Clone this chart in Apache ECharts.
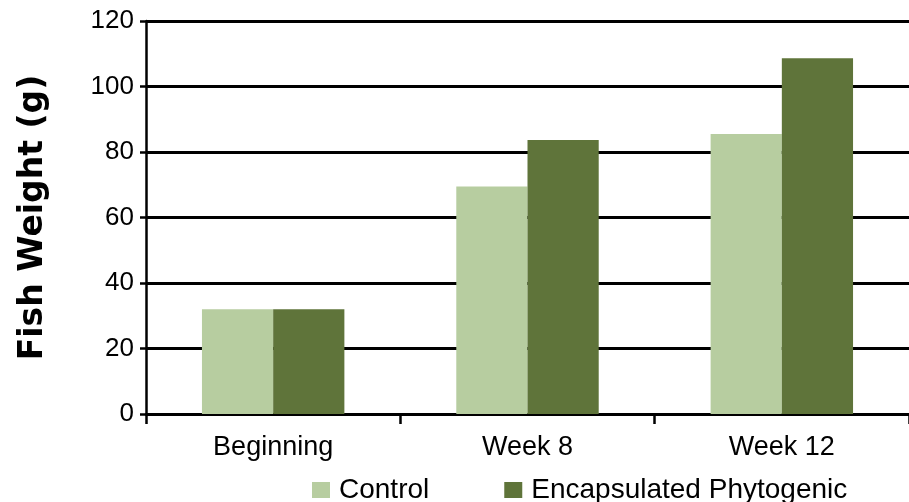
<!DOCTYPE html>
<html>
<head>
<meta charset="utf-8">
<script src="https://cdn.jsdelivr.net/npm/echarts@6/dist/echarts.min.js"></script>
<style>
  html, body { margin: 0; padding: 0; background: #fff; }
  #chart { width: 909px; height: 502px; }
</style>
</head>
<body>
<div id="chart"></div>
<script>
// Fish weight by sampling time, control vs. encapsulated phytogenic diet
const categories = ['Beginning', 'Week 8', 'Week 12'];
const controlValues = [32, 69.5, 85.5];
const phytogenicValues = [32, 83.7, 108.6];
const seriesNames = ['Control', 'Encapsulated Phytogenic'];
const yTicks = { min: 0, max: 120, step: 20 };

const chart = echarts.init(document.getElementById('chart'), null, { renderer: 'canvas' });

const labelFont = 'Liberation Sans, Arial, Helvetica, sans-serif';

chart.setOption({
  animation: false,
  backgroundColor: '#ffffff',
  grid: { left: 146, right: -1, top: 21, bottom: 88, containLabel: false },
  legend: {
    data: seriesNames,
    left: 307,
    top: 471,
    itemWidth: 18,
    itemHeight: 16,
    itemGap: 75,
    icon: 'rect',
    textStyle: { fontFamily: labelFont, fontSize: 28, color: '#000', padding: [0, 0, 0, 4] }
  },
  xAxis: {
    type: 'category',
    data: categories,
    axisLine: { lineStyle: { color: '#000', width: 2.5 } },
    axisTick: { show: true, length: 10, lineStyle: { color: '#000', width: 2.5 } },
    axisLabel: { fontFamily: labelFont, fontSize: 27, color: '#000', margin: 20 }
  },
  yAxis: {
    type: 'value',
    min: yTicks.min,
    max: yTicks.max,
    interval: yTicks.step,
    name: 'Fish Weight (g)',
    nameLocation: 'middle',
    nameGap: 96,
    nameRotate: 90,
    nameTextStyle: { fontFamily: 'DejaVu Sans, sans-serif', fontWeight: 'bold', fontSize: 33, color: '#000' },
    axisLine: { show: true, lineStyle: { color: '#000', width: 2.5 } },
    axisTick: { show: true, length: 6, lineStyle: { color: '#000', width: 2.5 } },
    axisLabel: { fontFamily: labelFont, fontSize: 26, color: '#000', margin: 12 },
    splitLine: { show: true, lineStyle: { color: '#000', width: 2.8 } }
  },
  series: [
    {
      name: seriesNames[0],
      type: 'bar',
      data: controlValues,
      barGap: '0%',
      barCategoryGap: '44%',
      itemStyle: { color: '#b7cda0' }
    },
    {
      name: seriesNames[1],
      type: 'bar',
      data: phytogenicValues,
      barGap: '0%',
      barCategoryGap: '44%',
      itemStyle: { color: '#5f743a' }
    }
  ]
});
</script>
</body>
</html>
